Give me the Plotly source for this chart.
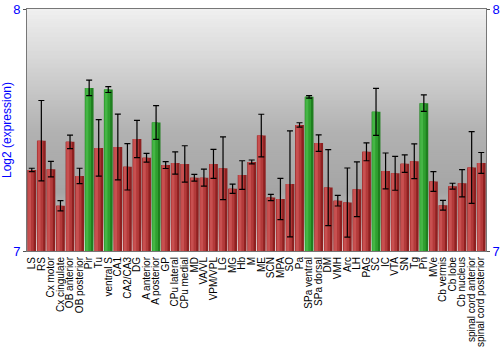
import plotly.graph_objects as go

categories = ["LS", "RS", "Cx motor", "Cx cingulate", "OB anterior", "OB posterior", "Pir", "Tu",
              "ventral S", "CA1", "CA2/CA3", "DG", "A anterior", "A posterior", "GP", "CPu lateral",
              "CPu medial", "MD", "VA/VL", "VPM/VPL", "LG", "MG", "Hb", "M", "ME", "SCN", "MPA", "SO",
              "Pa", "SPa ventral", "SPa dorsal", "DM", "VMH", "Arc", "LH", "PAG", "SC", "IC", "VTA",
              "SN", "Tg", "Pn", "MVe", "Cb vermis", "Cb lobe", "Cb nucleus", "spinal cord anterior",
              "spinal cord posterior"]
values = [7.335, 7.456, 7.338, 7.187, 7.451, 7.310, 7.674, 7.426,
          7.667, 7.430, 7.348, 7.463, 7.385, 7.531, 7.355, 7.364,
          7.360, 7.303, 7.303, 7.360, 7.342, 7.257, 7.314, 7.368, 7.477, 7.221, 7.215, 7.277,
          7.521, 7.637, 7.446, 7.262, 7.208, 7.200, 7.255, 7.410, 7.575, 7.331, 7.321,
          7.361, 7.371, 7.611, 7.287, 7.189, 7.268, 7.280, 7.345,
          7.364]
errors = [0.007, 0.166, 0.032, 0.021, 0.028, 0.032, 0.032, 0.117,
          0.012, 0.136, 0.096, 0.077, 0.018, 0.070, 0.014, 0.046,
          0.075, 0.014, 0.035, 0.060, 0.130, 0.019, 0.059, 0.008, 0.088, 0.013, 0.085, 0.219,
          0.009, 0.005, 0.034, 0.157, 0.022, 0.143, 0.113, 0.037, 0.097, 0.074, 0.070,
          0.036, 0.072, 0.034, 0.041, 0.020, 0.012, 0.056, 0.148,
          0.043]
highlighted = ["Pir", "ventral S", "A posterior", "SPa ventral", "SC", "Pn"]

x = list(range(len(categories)))
is_hi = [c in highlighted for c in categories]
dark = ["#1f7f1f" if h else "#8e2020" for h in is_hi]
mid = ["#2f9f2f" if h else "#b33a3a" for h in is_hi]
light = ["#45b545" if h else "#c85050" for h in is_hi]

fig = go.Figure()
fig.add_trace(go.Bar(x=x, y=values, width=0.92, offset=-0.46, marker=dict(color=dark, line_width=0),
                     showlegend=False))
fig.add_trace(go.Bar(x=x, y=values, width=0.62, offset=-0.42, marker=dict(color=mid, line_width=0),
                     showlegend=False))
fig.add_trace(go.Bar(x=x, y=values, width=0.3, offset=-0.38, marker=dict(color=light, line_width=0),
                     showlegend=False))
fig.add_trace(go.Bar(x=x, y=values, width=0.92, offset=-0.46,
                     marker=dict(color="rgba(0,0,0,0)", line_width=0), showlegend=False,
                     error_y=dict(type="data", array=errors, visible=True, color="black",
                                  thickness=1.2, width=3)))
fig.add_trace(go.Scatter(x=[0], y=[7.5], yaxis="y2", mode="markers",
                         marker=dict(opacity=0), showlegend=False, hoverinfo="skip"))

# background gradient bands
stops = [(7.0, 255), (7.12, 190), (7.25, 165), (7.5, 178), (7.75, 210), (8.0, 240)]
n = 120
for i in range(n):
    y0 = 7 + i / n
    y1 = min(8, 7 + (i + 1.6) / n)
    ym = 7 + (i + 0.5) / n
    for j in range(len(stops) - 1):
        if stops[j][0] <= ym <= stops[j + 1][0]:
            t = (ym - stops[j][0]) / (stops[j + 1][0] - stops[j][0])
            g = int(round(stops[j][1] + t * (stops[j + 1][1] - stops[j][1])))
            break
    fig.add_shape(type="rect", xref="paper", yref="y", x0=0, x1=1, y0=y0, y1=y1,
                  fillcolor=f"rgb({g},{g},{g})", line_width=0, layer="below")

font = "Arial, Liberation Sans, sans-serif"
fig.update_layout(
    width=500, height=350,
    margin=dict(l=27, r=14, t=9, b=99),
    paper_bgcolor="white", plot_bgcolor="white",
    barmode="overlay", bargap=0.08,
    font=dict(family=font, size=12, color="black"),
    xaxis=dict(tickmode="array", tickvals=x, ticktext=categories, tickangle=-90, automargin=False,
               range=[-0.5, len(categories) - 0.5], showline=True, linecolor="#777", mirror=True,
               ticks="outside", ticklen=1, tickcolor="rgba(0,0,0,0)",
               tickfont=dict(size=10, color="black"), showgrid=False, zeroline=False),
    yaxis=dict(range=[7, 8], tickvals=[7, 8], ticktext=["7", "8"], showline=True, linecolor="#777",
               automargin=False,
               ticks="outside", ticklen=3, tickcolor="#555", tickfont=dict(size=13, color="blue"),
               showgrid=False, zeroline=False,
               title=dict(text="Log2 (expression)", font=dict(size=12, color="blue"), standoff=0)),
    yaxis2=dict(range=[7, 8], tickvals=[7, 8], ticktext=["7", "8"], overlaying="y", side="right",
                automargin=False,
                showline=True, linecolor="#777", ticks="outside", ticklen=3, tickcolor="#555",
                tickfont=dict(size=13, color="blue"), showgrid=False, zeroline=False),
)
fig.write_html("out.html")
